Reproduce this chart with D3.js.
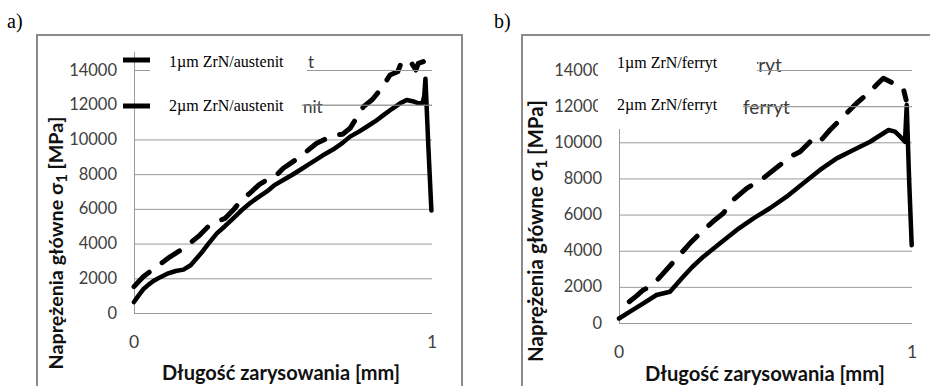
<!DOCTYPE html>
<html>
<head>
<meta charset="utf-8">
<script src="https://cdn.jsdelivr.net/npm/d3@7"></script>
<style>
body { margin: 0; background: #fff; }
svg { display: block; }
</style>
</head>
<body>
<svg id="chart" width="930" height="386"></svg>
<script>
// a) austenit
var austenit1X = [0, 0.015, 0.031, 0.05, 0.065, 0.09, 0.11, 0.14, 0.166, 0.19, 0.225, 0.25, 0.278, 0.305, 0.333, 0.36, 0.389, 0.415, 0.445, 0.47, 0.501, 0.53, 0.557, 0.585, 0.613, 0.64, 0.669, 0.7, 0.725, 0.755, 0.781, 0.81, 0.837, 0.865, 0.893, 0.915, 0.935, 0.955, 0.968, 0.974, 0.978, 0.988, 0.998];
var austenit1Y = [630, 1000, 1365, 1650, 1840, 2080, 2250, 2420, 2500, 2750, 3440, 4000, 4590, 5000, 5450, 5900, 6320, 6650, 6990, 7350, 7660, 7950, 8240, 8550, 8850, 9150, 9430, 9800, 10160, 10450, 10730, 11050, 11400, 11750, 12080, 12270, 12200, 12080, 12100, 12500, 13500, 9500, 5900];
var austenit2X = [0, 0.031, 0.076, 0.121, 0.166, 0.221, 0.25, 0.278, 0.305, 0.333, 0.36, 0.389, 0.42, 0.445, 0.47, 0.501, 0.557, 0.613, 0.669, 0.7, 0.725, 0.77, 0.8, 0.831, 0.859, 0.885, 0.898, 0.91, 0.932, 0.946, 0.954, 0.971];
var austenit2Y = [1520, 2090, 2670, 3240, 3720, 4490, 5000, 5260, 5450, 5930, 6500, 6900, 7400, 7660, 7800, 8340, 9000, 9780, 10250, 10300, 10640, 11890, 12300, 12950, 13710, 13900, 14480, 14570, 14380, 14000, 14380, 14480];

// b) ferryt
var ferryt1X = [0, 0.0375, 0.083, 0.128, 0.174, 0.219, 0.25, 0.288, 0.345, 0.402, 0.459, 0.515, 0.572, 0.629, 0.686, 0.743, 0.8, 0.857, 0.92, 0.942, 0.96, 0.976, 0.982, 0.99, 0.999];
var ferryt1Y = [250, 625, 1090, 1550, 1730, 2560, 3100, 3670, 4410, 5150, 5790, 6350, 6990, 7730, 8470, 9110, 9570, 10030, 10680, 10590, 10310, 10030, 12060, 8000, 4300];
var ferryt2X = [0.035, 0.06, 0.083, 0.112, 0.151, 0.197, 0.242, 0.288, 0.32, 0.356, 0.39, 0.436, 0.492, 0.549, 0.584, 0.618, 0.652, 0.675, 0.72, 0.765, 0.811, 0.857, 0.88, 0.902, 0.948, 0.97, 0.98];
var ferryt2Y = [1180, 1500, 1830, 2050, 2750, 3580, 4410, 5150, 5600, 6070, 6810, 7450, 8010, 8740, 9200, 9480, 10030, 9850, 10680, 11420, 12160, 12800, 13200, 13540, 13170, 12990, 12340];

var yTicks = [0, 2000, 4000, 6000, 8000, 10000, 12000, 14000];
var xTicks = [0, 1];
var legendA = ["1\u00b5m ZrN/austenit", "2\u00b5m ZrN/austenit"];
var legendB = ["1\u00b5m ZrN/ferryt", "2\u00b5m ZrN/ferryt"];

var svg = d3.select('#chart');

function zip(xs, ys) {
	return xs.map(function(x, i) { return [x, ys[i]]; });
}

function fitText(sel, target) {
	var size = parseFloat(sel.attr('font-size'));
	var w = sel.node().getComputedTextLength();
	if (w > 0) sel.attr('font-size', size * target / w);
}

function panel(p) {
	var g = svg.append('g');

	// frame
	g.append('rect')
		.attr('x', p.frame[0]).attr('y', p.frame[1])
		.attr('width', p.frame[2]).attr('height', 400)
		.attr('fill', 'none').attr('stroke', '#8a8a8a').attr('stroke-width', 2);

	g.append('text')
		.attr('x', p.tag[0]).attr('y', p.tag[1])
		.attr('font-family', 'Liberation Serif, Times New Roman, serif')
		.attr('font-size', 20).attr('fill', '#000')
		.text(p.tagText);

	var x = d3.scaleLinear().domain([0, 1]).range([p.x0, p.x1]);
	var y = d3.scaleLinear().domain([0, 14000]).range([p.y0, p.y1]);

	// gridlines
	g.append('g').selectAll('line').data(yTicks).join('line')
		.attr('x1', p.x0).attr('x2', p.x1)
		.attr('y1', function(d) { return y(d) + 0.5; })
		.attr('y2', function(d) { return y(d) + 0.5; })
		.attr('stroke', '#9a9a9a').attr('stroke-width', 1);

	// y axis line
	g.append('line')
		.attr('x1', p.x0 + 0.5).attr('x2', p.x0 + 0.5)
		.attr('y1', p.axisTop).attr('y2', p.y0)
		.attr('stroke', '#9a9a9a').attr('stroke-width', 1);

	// tick labels
	g.append('g').selectAll('text').data(yTicks).join('text')
		.attr('x', p.yLabelX).attr('y', function(d) { return y(d) + 5.5; })
		.attr('text-anchor', 'end')
		.attr('font-family', 'Lato, sans-serif').attr('font-size', 16.5)
		.attr('fill', '#404040')
		.text(function(d) { return d; });

	g.append('g').selectAll('text').data(xTicks).join('text')
		.attr('x', function(d) { return x(d); }).attr('y', p.xLabelY)
		.attr('text-anchor', 'middle')
		.attr('font-family', 'Lato, sans-serif').attr('font-size', 17.5)
		.attr('fill', '#404040')
		.text(function(d) { return d; });

	// axis titles
	var yt = g.append('text')
		.attr('transform', 'translate(' + p.yTitle[0] + ',' + p.yTitle[1] + ')rotate(-90)')
		.attr('text-anchor', 'middle')
		.attr('font-family', 'Lato, sans-serif').attr('font-weight', 'bold')
		.attr('font-size', 17).attr('fill', '#111');
	yt.append('tspan').text('Napr\u0119\u017cenia g\u0142\u00f3wne \u03c3');
	yt.append('tspan').attr('font-size', '0.75em').attr('dy', 4).text('1');
	yt.append('tspan').attr('dy', -4).text(' [MPa]');
	fitText(yt, p.yTitleLen);

	var xt = g.append('text')
		.attr('x', p.xTitle[0]).attr('y', p.xTitle[1])
		.attr('text-anchor', 'middle')
		.attr('font-family', 'Lato, sans-serif').attr('font-weight', 'bold')
		.attr('font-size', 17).attr('fill', '#111')
		.text('D\u0142ugo\u015b\u0107 zarysowania [mm]');
	fitText(xt, p.xTitleLen);

	// data lines
	var line = d3.line()
		.x(function(d) { return x(d[0]); })
		.y(function(d) { return y(d[1]); });

	g.append('path')
		.datum(zip(p.s2x, p.s2y))
		.attr('d', line)
		.attr('fill', 'none').attr('stroke', '#000').attr('stroke-width', 5)
		.attr('stroke-linecap', 'round').attr('stroke-linejoin', 'round')
		.attr('stroke-dasharray', '21,16');

	g.append('path')
		.datum(zip(p.s1x, p.s1y))
		.attr('d', line)
		.attr('fill', 'none').attr('stroke', '#000').attr('stroke-width', 4.5)
		.attr('stroke-linecap', 'round').attr('stroke-linejoin', 'round');

	// remnants of the original legend, peeking out from under the box
	p.remnants.forEach(function(r) {
		g.append('text')
			.attr('x', r[0]).attr('y', r[1])
			.attr('font-family', 'Lato, sans-serif').attr('font-size', p.remnantSize)
			.attr('fill', '#3a3a3a').text(r[2]);
	});
	// the gridlines run over the remnants
	[14000, 12000].forEach(function(v) {
		g.append('line')
			.attr('x1', p.x0).attr('x2', p.x1)
			.attr('y1', y(v) + 0.5).attr('y2', y(v) + 0.5)
			.attr('stroke', '#9a9a9a').attr('stroke-width', 1);
	});

	// legend boxes covering the plot, one per entry
	p.legendBoxes.forEach(function(b) {
		g.append('rect')
			.attr('x', b[0]).attr('y', b[1])
			.attr('width', b[2]).attr('height', b[3])
			.attr('fill', '#fff');
	});

	if (p.legendLines) {
		g.append('g').selectAll('line').data(p.legendLines).join('line')
			.attr('x1', p.legendLineX[0]).attr('x2', p.legendLineX[1])
			.attr('y1', function(d) { return d; }).attr('y2', function(d) { return d; })
			.attr('stroke', '#000').attr('stroke-width', 5);
	}

	g.append('g').selectAll('text').data(p.legend).join('text')
		.attr('x', p.legendX)
		.attr('y', function(d, i) { return p.legendY[i]; })
		.attr('font-family', 'Liberation Serif, Times New Roman, serif')
		.attr('font-size', 16).attr('fill', '#000')
		.text(function(d) { return d; });
}

panel({
	frame: [37, 35, 425],
	tag: [7, 28], tagText: 'a)',
	x0: 134, x1: 432, y0: 313, y1: 70,
	axisTop: 52,
	yLabelX: 117, xLabelY: 348,
	yTitle: [63, 243], yTitleLen: 253,
	xTitle: [281, 380], xTitleLen: 238,
	s1x: austenit1X, s1y: austenit1Y, s2x: austenit2X, s2y: austenit2Y,
	legend: legendA, legendX: 169, legendY: [67, 111],
	legendBoxes: [[150, 44, 157, 40], [150, 84, 152, 34]],
	legendLines: [60, 106], legendLineX: [123, 150],
	remnantSize: 17,
	remnants: [[308, 68, 't'], [303, 113, 'nit']]
});

panel({
	frame: [522, 35, 420],
	tag: [494, 28], tagText: 'b)',
	x0: 619, x1: 912, y0: 323, y1: 70,
	axisTop: 129,
	yLabelX: 602, xLabelY: 358,
	yTitle: [543, 231], yTitleLen: 262,
	xTitle: [765, 381], xTitleLen: 240,
	s1x: ferryt1X, s1y: ferryt1Y, s2x: ferryt2X, s2y: ferryt2Y,
	legend: legendB, legendX: 617, legendY: [68, 110],
	legendBoxes: [[598, 44, 159, 46], [598, 90, 145, 39]],
	legendLines: null,
	remnantSize: 19,
	remnants: [[735, 72, 'ferryt'], [743, 114, 'ferryt']]
});
</script>
</body>
</html>
